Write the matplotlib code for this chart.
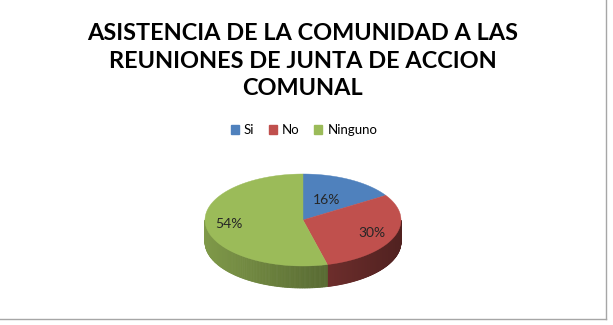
"""3D-style pie chart: asistencia a reuniones de JAC."""
import numpy as np
import matplotlib
matplotlib.use("Agg")
import matplotlib.pyplot as plt
from matplotlib.patches import Polygon, Patch
from matplotlib.colors import to_rgb

TITLE = "ASISTENCIA DE LA COMUNIDAD A LAS\nREUNIONES DE JUNTA DE ACCION\nCOMUNAL"
labels = ["Si", "No", "Ninguno"]
values = [16, 30, 54]
colors = ["#4F81BD", "#C0504D", "#9BBB59"]

W, H = 613, 325
FONT = ["Lato", "DejaVu Sans"]

fig = plt.figure(figsize=(W / 100, H / 100), dpi=100, facecolor="white")
ax = fig.add_axes([0, 0, 1, 1])
ax.set_xlim(0, W)
ax.set_ylim(H, 0)
ax.axis("off")

# pie geometry in pixel units
cx, cy = 303, 220
rx, ry = 98, 46
depth = 22

fracs = np.array(values, dtype=float) / sum(values)
bounds = 90 - 360 * np.concatenate([[0], np.cumsum(fracs)])


def ell(t):
    t = np.radians(t)
    return cx + rx * np.cos(t), cy - ry * np.sin(t)


# front side walls, drawn as thin strips for a shading gradient
for i, c in enumerate(colors):
    a0, a1 = bounds[i + 1], bounds[i]
    ts = np.linspace(a0, a1, 200)
    base = np.array(to_rgb(c))
    for ta, tb in zip(ts[:-1], ts[1:]):
        if np.sin(np.radians((ta + tb) / 2)) > 0:
            continue
        xa, ya = ell(ta)
        xb, yb = ell(tb)
        cm = np.cos(np.radians((ta + tb) / 2))
        shade = 0.82 - 0.4 * (cm + 1) / 2
        col = np.clip(base * shade, 0, 1)
        ax.add_patch(Polygon([[xa, ya], [xb, yb], [xb, yb + depth], [xa, ya + depth]],
                             closed=True, facecolor=col, edgecolor=col, lw=0.6))

# top faces
for i, c in enumerate(colors):
    ts = np.linspace(bounds[i], bounds[i + 1], 120)
    xs, ys = ell(ts)
    pts = np.column_stack([np.r_[cx, xs], np.r_[cy, ys]])
    ax.add_patch(Polygon(pts, closed=True, facecolor=c, edgecolor=c, lw=0.3))

# percent labels
for i, v in enumerate(values):
    mid = (bounds[i] + bounds[i + 1]) / 2
    r = 0.5 if abs(np.cos(np.radians(mid))) < 0.6 else 0.76
    x = cx + r * rx * np.cos(np.radians(mid))
    y = cy - r * ry * np.sin(np.radians(mid))
    ax.text(x, y, f"{v}%", ha="center", va="center", fontsize=10,
            color="#262626", family=FONT)

ax.text(W / 2 - 4, 61, TITLE, ha="center", va="center", fontsize=16.9,
        fontweight="bold", color="black", linespacing=1.36, family=FONT)

handles = [Patch(facecolor=c, edgecolor=c) for c in colors]
fig.legend(handles, labels, loc="center", bbox_to_anchor=(304 / W, 1 - 130 / H),
           ncol=3, frameon=False, handlelength=0.6, handleheight=0.6,
           handletextpad=0.4, columnspacing=1.1,
           prop={"family": FONT, "size": 9.5})

# chart border (right and bottom visible)
ax.plot([606, 606], [0, 319], color="#A6A6A6", lw=1)
ax.plot([0, 606], [319, 319], color="#A6A6A6", lw=1)

fig.savefig("out.png", dpi=100, facecolor="white")
